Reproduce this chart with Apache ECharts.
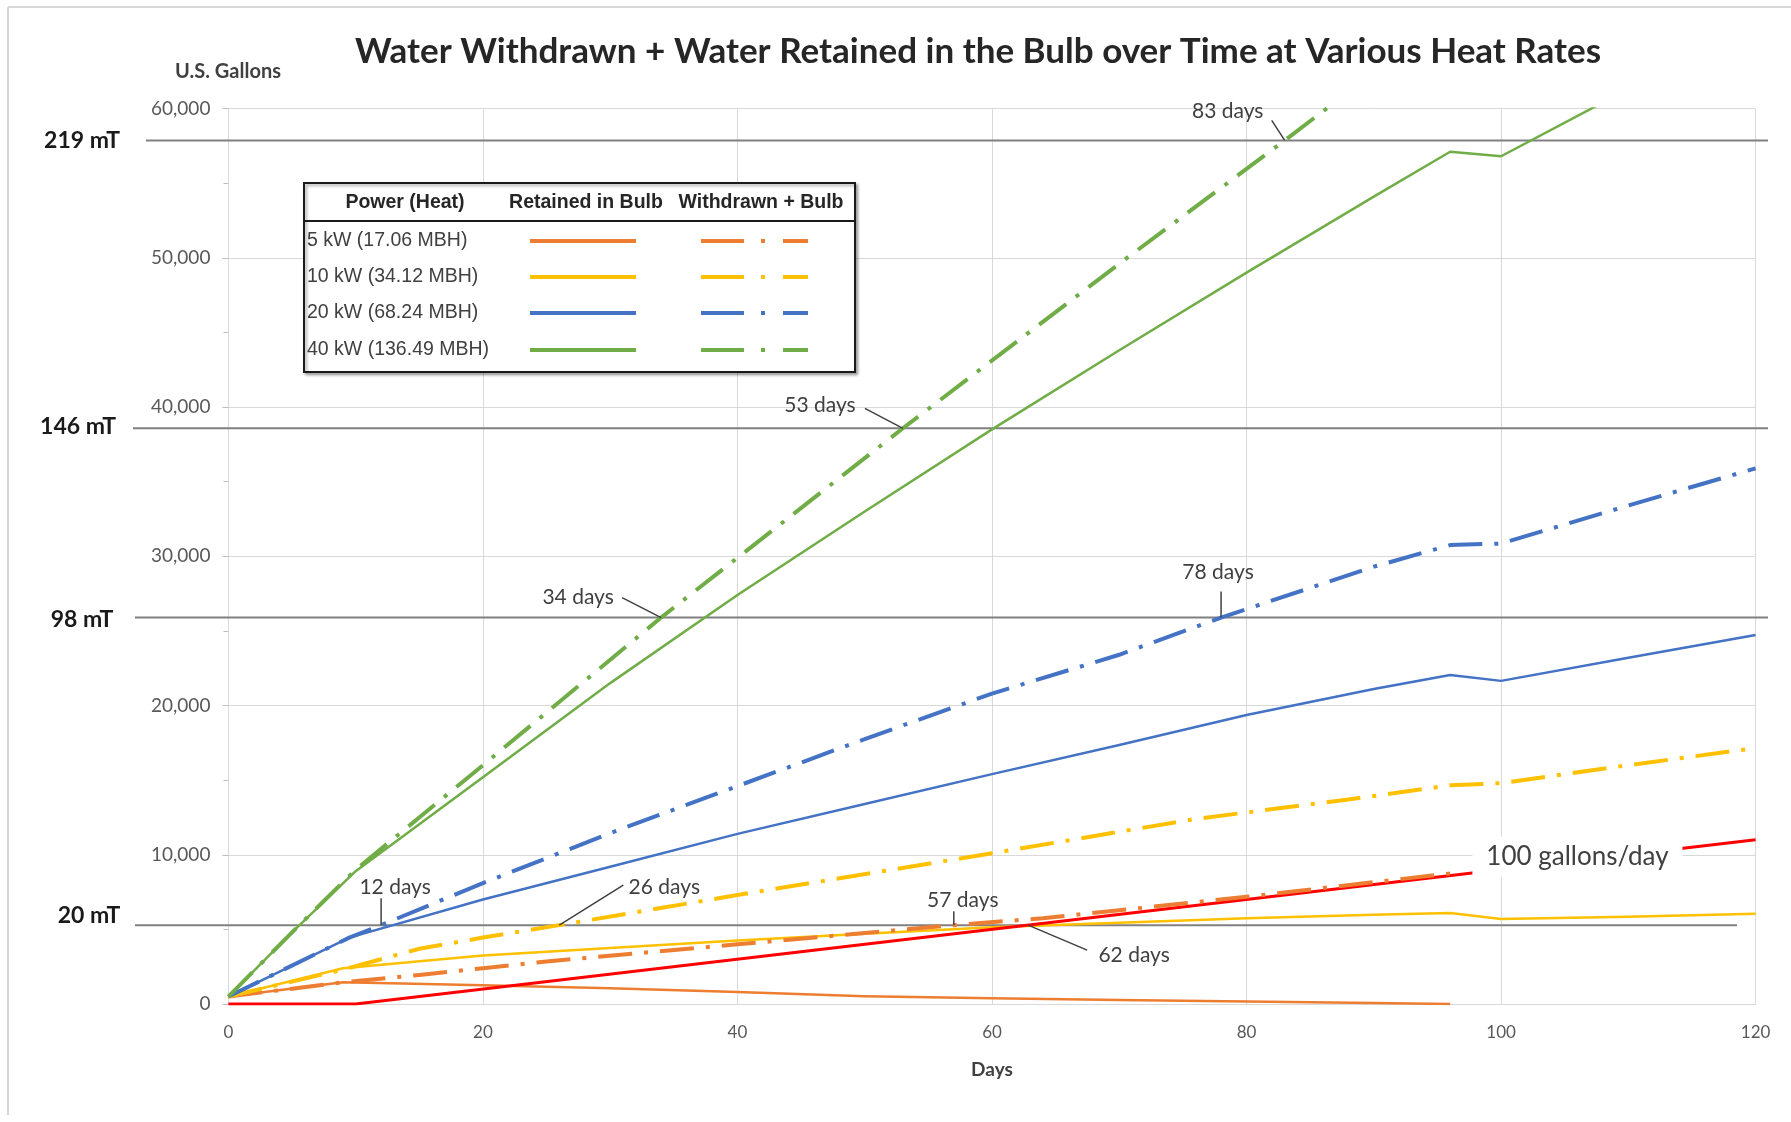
<!DOCTYPE html>
<html>
<head>
<meta charset="utf-8">
<title>Water Withdrawn + Water Retained in the Bulb</title>
<script src="https://cdn.jsdelivr.net/npm/echarts/dist/echarts.min.js"></script>
<style>
  html, body { margin: 0; padding: 0; background: #ffffff; }
  #chart { width: 1791px; height: 1122px; }
</style>
</head>
<body>
<div id="chart"></div>
<script>
// ---- data: [day, U.S. gallons] ----
const bulb5kW   = [[0,500],[9,1450],[20,1250],[30,1050],[40,800],[50,520],[60,380],[70,270],[80,160],[90,60],[96,0]];
const total5kW  = [[0,500],[9,1450],[15,1950],[20,2400],[25,2850],[40,4000],[57,5284],[64,5750],[70,6280],[80,7180],[96,8750]];
const bulb10kW  = [[0,500],[9,2400],[20,3250],[30,3750],[40,4250],[50,4700],[60,5150],[70,5450],[80,5750],[90,5980],[96,6100],[100,5700],[110,5850],[120,6050]];
const total10kW = [[0,500],[9,2300],[15,3700],[20,4450],[26,5284],[40,7300],[60,10100],[76,12400],[88,13700],[96,14650],[100,14800],[110,16000],[120,17150]];
const bulb20kW  = [[0,500],[9.5,4450],[20,7000],[30,9200],[40,11400],[50,13400],[60,15400],[70,17350],[80,19360],[90,21100],[96,22050],[100,21650],[110,23200],[120,24720]];
const total20kW = [[0,500],[9.5,4450],[12,5284],[20,8100],[30,11450],[40,14600],[50,17750],[60,20800],[70,23400],[78,25892],[90,29300],[96,30750],[100,30850],[110,33400],[120,35890]];
const bulb40kW  = [[0,500],[5,4800],[10,8900],[20,15200],[30,21500],[40,27400],[50,33000],[60,38500],[70,43800],[80,49000],[90,54100],[96,57100],[100,56800],[110,61300],[120,65700]];
const total40kW = [[0,500],[5,4800],[10,9000],[20,16000],[34,25892],[53,38573],[70,49600],[83,57860],[90,62400]];
const withdrawal100 = [[0,0],[10,0],[120,11000]];

// mass thresholds in metric tonnes, converted to gallons of water
const GALLONS_PER_TONNE = 1000 / 3.785;
const thresholdTonnes = [20, 98, 146, 219];
const thresholdLabels = ['20 mT', '98 mT', '146 mT', '219 mT'];

const powerLabels = ['5 kW (17.06 MBH)', '10 kW (34.12 MBH)', '20 kW (68.24 MBH)', '40 kW (136.49 MBH)'];
const powerColors = ['#ED7D31', '#FFC000', '#4472C4', '#70AD47'];
const legendHeaders = ['Power (Heat)', 'Retained in Bulb', 'Withdrawn + Bulb'];

const dayTicks = [0, 20, 40, 60, 80, 100, 120];
const gallonTicks = [0, 10000, 20000, 30000, 40000, 50000, 60000];

// days at which a curve reaches a threshold
const callouts = [
  { label: '12 days', series: total20kW, tonnes: 20 },
  { label: '26 days', series: total10kW, tonnes: 20 },
  { label: '57 days', series: total5kW, tonnes: 20 },
  { label: '62 days', series: withdrawal100, tonnes: 20 },
  { label: '34 days', series: total40kW, tonnes: 98 },
  { label: '78 days', series: total20kW, tonnes: 98 },
  { label: '53 days', series: total40kW, tonnes: 146 },
  { label: '83 days', series: total40kW, tonnes: 219 }
];

// ---- layout ----
const FONT = 'Lato, "Noto Sans", sans-serif';
const TABLE_FONT = '"Liberation Sans", Arial, sans-serif';
const DASH_DOT = [34, 12, 4, 12];
const calloutLayout = {
  '12 days': { text: [14, -38], lead: [[0, -27], [0, 0]] },
  '26 days': { text: [105, -38], lead: [[64, -40], [0, 0]] },
  '57 days': { text: [9, -25], lead: [[0, -14], [0, 0]] },
  '62 days': { text: [106, 30], lead: [[59, 25], [0, 0]] },
  '34 days': { text: [-83, -20], lead: [[-39, -20], [0, 0]] },
  '78 days': { text: [-3, -45], lead: [[0, -26], [0, 0]] },
  '53 days': { text: [-83, -23], lead: [[-38, -20], [0, 0]] },
  '83 days': { text: [-57, -29], lead: [[-13, -20], [0, 0]] }
};
const thresholdLayout = {
  20:  { from: 135, to: 1737, labelX: 89, dy: -10 },
  98:  { from: 135, to: 1768, labelX: 82, dy: 2 },
  146: { from: 133, to: 1768, labelX: 78, dy: -2 },
  219: { from: 146, to: 1768, labelX: 82, dy: 0 }
};

const chart = echarts.init(document.getElementById('chart'), null, { renderer: 'canvas' });

function curve(name, data, color, dashed) {
  return {
    type: 'line', name, data,
    symbol: 'none', showSymbol: false,
    smooth: false,
    clip: true, silent: true,
    z: dashed ? 3 : 2,
    lineStyle: { color, width: dashed ? 4 : 2.5, type: dashed ? DASH_DOT : 'solid', cap: 'butt', join: 'round' },
    emphasis: { disabled: true }
  };
}

const series = [
  curve('Retained in Bulb 5 kW', bulb5kW, powerColors[0], false),
  curve('Retained in Bulb 10 kW', bulb10kW, powerColors[1], false),
  curve('Retained in Bulb 20 kW', bulb20kW, powerColors[2], false),
  curve('Retained in Bulb 40 kW', bulb40kW, powerColors[3], false),
  {
    type: 'line', name: '100 gallons/day', data: withdrawal100,
    symbol: 'none', showSymbol: false, clip: true, silent: true, z: 3,
    lineStyle: { color: '#FF0000', width: 3 },
    emphasis: { disabled: true }
  },
  curve('Withdrawn + Bulb 5 kW', total5kW, powerColors[0], true),
  curve('Withdrawn + Bulb 10 kW', total10kW, powerColors[1], true),
  curve('Withdrawn + Bulb 20 kW', total20kW, powerColors[2], true),
  curve('Withdrawn + Bulb 40 kW', total40kW, powerColors[3], true)
];

chart.setOption({
  animation: false,
  backgroundColor: '#ffffff',
  textStyle: { fontFamily: FONT },
  grid: { left: 228.4, right: 35.4, top: 108.5, bottom: 118, containLabel: false, outerBoundsMode: 'none' },
  xAxis: {
    type: 'value', min: dayTicks[0], max: dayTicks[dayTicks.length - 1], interval: dayTicks[1] - dayTicks[0],
    axisLine: { show: true, lineStyle: { color: '#d9d9d9', width: 1 } },
    axisTick: { show: false },
    axisLabel: { color: '#595959', fontSize: 17, margin: 20, fontFamily: FONT },
    splitLine: { show: true, lineStyle: { color: '#d9d9d9', width: 1 } }
  },
  yAxis: {
    type: 'value', min: gallonTicks[0], max: gallonTicks[gallonTicks.length - 1], interval: gallonTicks[1] - gallonTicks[0],
    axisLine: { show: true, lineStyle: { color: '#d9d9d9', width: 1 } },
    axisTick: { show: true, length: 6, lineStyle: { color: '#bfbfbf' } },
    minorTick: { show: true, splitNumber: 2, length: 5, lineStyle: { color: '#bfbfbf' } },
    axisLabel: {
      color: '#595959', fontSize: 19, margin: 18, fontFamily: FONT,
      formatter: v => v.toLocaleString('en-US')
    },
    splitLine: { show: true, lineStyle: { color: '#d9d9d9', width: 1 } }
  },
  series
});

// ---- overlays placed through the axes ----
const toPx = (d, g) => chart.convertToPixel({ gridIndex: 0 }, [d, g]);
const toPy = g => chart.convertToPixel({ yAxisIndex: 0 }, g);

function crossingDay(data, level) {
  for (let i = 1; i < data.length; i++) {
    const [x0, y0] = data[i - 1], [x1, y1] = data[i];
    if (y0 !== y1 && (y0 - level) * (y1 - level) <= 0) return x0 + (level - y0) * (x1 - x0) / (y1 - y0);
  }
  return null;
}
function valueAt(data, day) {
  for (let i = 1; i < data.length; i++) {
    const [x0, y0] = data[i - 1], [x1, y1] = data[i];
    if (day >= x0 && day <= x1) return y0 + (day - x0) * (y1 - y0) / (x1 - x0);
  }
  return null;
}
function text(x, y, str, font, fill, align, z) {
  return {
    type: 'text', x, y, z: z || 20, silent: true,
    style: { text: str, font, fill, textAlign: align || 'center', textVerticalAlign: 'middle', align: align || 'center', verticalAlign: 'middle' }
  };
}
function seg(x1, y1, x2, y2, stroke, lineWidth, z) {
  return { type: 'line', z: z || 20, silent: true, shape: { x1, y1, x2, y2 }, style: { stroke, lineWidth } };
}

const graphics = [];

// outer frame edges
graphics.push(seg(8, 7, 1791, 7, '#d6d6d6', 2, 1));
graphics.push(seg(8, 7, 8, 1115, '#d6d6d6', 2, 1));

// title and axis names
graphics.push(text(978, 52, 'Water Withdrawn + Water Retained in the Bulb over Time at Various Heat Rates', 'bold 35px ' + FONT, '#262626'));
graphics.push(text(228, 72, 'U.S. Gallons', 'bold 20px ' + FONT, '#404040'));
graphics.push(text(toPx(60, 0)[0], 1070, 'Days', 'bold 19px ' + FONT, '#404040'));

// threshold lines
thresholdTonnes.forEach((t, i) => {
  const y = toPy(t * GALLONS_PER_TONNE);
  const L = thresholdLayout[t];
  graphics.push(seg(L.from, y, L.to, y, '#808080', 2, 1));
  graphics.push(text(L.labelX, y + L.dy, thresholdLabels[i], 'bold 23px ' + FONT, '#1a1a1a'));
});

// callouts with leader lines
callouts.forEach(c => {
  const level = c.tonnes * GALLONS_PER_TONNE;
  const day = crossingDay(c.series, level);
  const [ax, ay] = toPx(day, level);
  const L = calloutLayout[c.label];
  graphics.push(seg(ax + L.lead[0][0], ay + L.lead[0][1], ax + L.lead[1][0], ay + L.lead[1][1], '#404040', 1.5, 25));
  graphics.push(text(ax + L.text[0], ay + L.text[1], c.label, '21px ' + FONT, '#404040', 'center', 25));
});

// withdrawal-rate label sitting on its line
(function () {
  const day = 106;
  const [cx, cy] = toPx(day, valueAt(withdrawal100, day));
  graphics.push({ type: 'rect', z: 24, silent: true, shape: { x: cx - 105, y: cy - 24, width: 210, height: 40 }, style: { fill: '#ffffff' } });
  graphics.push(text(cx, cy - 4, '100 gallons/day', '26px ' + FONT, '#404040', 'center', 25));
})();

// legend table
(function () {
  const bx = 304, by = 183, bw = 551, bh = 189;
  graphics.push({
    type: 'rect', z: 30, silent: true,
    shape: { x: bx, y: by, width: bw, height: bh },
    style: { fill: '#ffffff', stroke: '#1a1a1a', lineWidth: 2, shadowBlur: 3, shadowOffsetX: 2, shadowOffsetY: 2, shadowColor: 'rgba(0,0,0,0.35)' }
  });
  graphics.push(seg(bx, 221, bx + bw, 221, '#1a1a1a', 2, 31));
  const headerX = [405, 586, 761];
  legendHeaders.forEach((h, i) => graphics.push(text(headerX[i], 203, h, 'bold 19.5px ' + TABLE_FONT, '#262626', 'center', 31)));
  const rowY = [241, 277, 313, 350];
  powerLabels.forEach((lab, i) => {
    const y = rowY[i], col = powerColors[i];
    graphics.push(text(307, y, lab, '19.5px ' + TABLE_FONT, '#404040', 'left', 31));
    graphics.push(seg(530, y, 636, y, col, 4, 31));
    graphics.push(seg(701, y, 744, y, col, 4, 31));
    graphics.push(seg(761, y, 765, y, col, 4, 31));
    graphics.push(seg(783, y, 808, y, col, 4, 31));
  });
})();

chart.setOption({ graphic: { elements: graphics } });
</script>
</body>
</html>
